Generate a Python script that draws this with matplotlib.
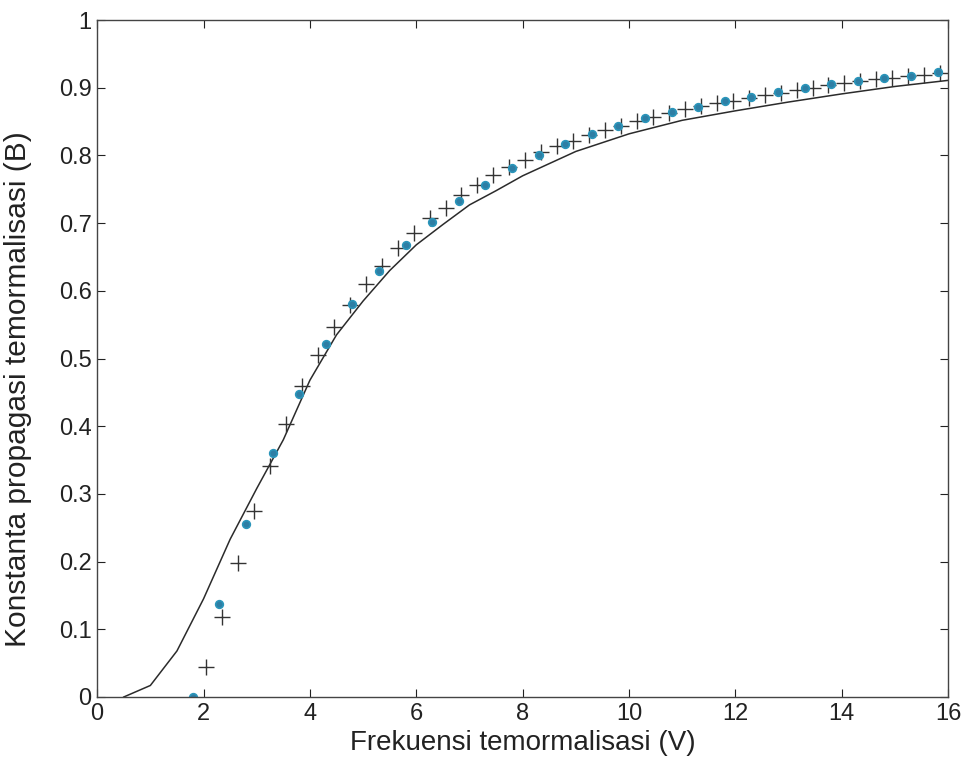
import matplotlib
matplotlib.use("Agg")
import matplotlib.pyplot as plt

plt.rcParams["font.family"] = ["Liberation Sans", "DejaVu Sans"]

# solid curve
line_v = [0.5, 1.0, 1.5, 2.0, 2.5, 3.0, 3.5, 4.0, 4.5, 5.0, 5.5, 6.0, 6.5,
          7.0, 7.5, 8.0, 9.0, 10.0, 11.0, 12.0, 13.0, 14.0, 15.0, 16.0]
line_b = [0.0, 0.017, 0.068, 0.145, 0.233, 0.308, 0.38, 0.468, 0.535, 0.585,
          0.63, 0.668, 0.698, 0.727, 0.748, 0.77, 0.806, 0.832, 0.852, 0.866,
          0.879, 0.891, 0.902, 0.911]

# plus markers
plus_v = [2.05, 2.35, 2.65, 2.95, 3.25, 3.55, 3.85, 4.15, 4.45, 4.75, 5.05,
          5.35, 5.65, 5.95, 6.25, 6.55, 6.85, 7.15, 7.45, 7.75, 8.05, 8.35,
          8.65, 8.95, 9.25, 9.55, 9.85, 10.15, 10.45, 10.75, 11.05, 11.35,
          11.65, 11.95, 12.25, 12.55, 12.85, 13.15, 13.45, 13.75, 14.05,
          14.35, 14.65, 14.95, 15.25, 15.55, 15.85]
plus_b = [0.045, 0.118, 0.198, 0.275, 0.341, 0.403, 0.459, 0.505, 0.546,
          0.579, 0.610, 0.637, 0.663, 0.685, 0.707, 0.723, 0.741, 0.756,
          0.771, 0.783, 0.794, 0.805, 0.814, 0.822, 0.830, 0.838, 0.844,
          0.851, 0.857, 0.863, 0.868, 0.873, 0.877, 0.881, 0.885, 0.889,
          0.893, 0.897, 0.900, 0.904, 0.907, 0.910, 0.913, 0.915, 0.917,
          0.919, 0.922]

# circle markers
circ_v = [1.8, 2.3, 2.8, 3.3, 3.8, 4.3, 4.8, 5.3, 5.8, 6.3, 6.8, 7.3, 7.8,
          8.3, 8.8, 9.3, 9.8, 10.3, 10.8, 11.3, 11.8, 12.3, 12.8, 13.3, 13.8,
          14.3, 14.8, 15.3, 15.8]
circ_b = [0.0, 0.137, 0.256, 0.361, 0.448, 0.521, 0.580, 0.629, 0.668, 0.702,
          0.733, 0.756, 0.781, 0.800, 0.817, 0.832, 0.843, 0.855, 0.865,
          0.872, 0.880, 0.886, 0.894, 0.900, 0.905, 0.910, 0.915, 0.918,
          0.923]

x_ticks = [0, 2, 4, 6, 8, 10, 12, 14, 16]
y_ticks = [0, 0.1, 0.2, 0.3, 0.4, 0.5, 0.6, 0.7, 0.8, 0.9, 1]
y_labels = ["0", "0.1", "0.2", "0.3", "0.4", "0.5", "0.6", "0.7", "0.8", "0.9", "1"]

fig = plt.figure(figsize=(9.62, 7.74), dpi=100)
ax = fig.add_axes([0.101, 0.0995, 0.8846, 0.8745])

ax.plot(line_v, line_b, color="#2b2b2b", lw=1.1)
ax.plot(plus_v, plus_b, linestyle="none", marker="+", ms=11, mew=1.0,
        color="#333333")
ax.plot(circ_v, circ_b, linestyle="none", marker="o", ms=5.5, mew=1.2,
        mfc="#2e7ea4", mec="#2a95ba")

ax.set_xlim(0, 16)
ax.set_ylim(0, 1)
ax.set_xticks(x_ticks)
ax.set_yticks(y_ticks)
ax.set_yticklabels(y_labels)
ax.tick_params(direction="in", top=True, right=True, length=6,
               labelsize=17, colors="#222222", pad=4)
for s in ax.spines.values():
    s.set_color("#444444")
    s.set_linewidth(1.0)

ax.set_xlabel("Frekuensi temormalisasi (V)", fontsize=20, color="#222222",
              labelpad=4)
ax.set_ylabel("Konstanta propagasi temormalisasi (B)", fontsize=21.5,
              color="#222222")
ax.yaxis.set_label_coords(-0.077, 0.455)

fig.savefig("out.png", dpi=100)
